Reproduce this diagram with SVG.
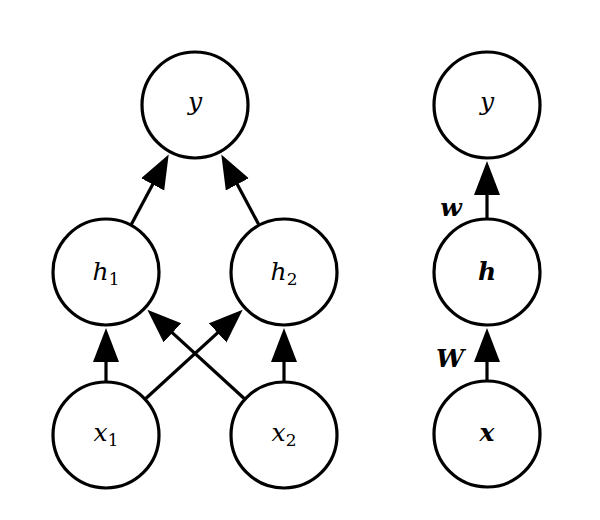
<svg xmlns="http://www.w3.org/2000/svg" width="600" height="520" viewBox="0 0 600 520">
<defs>
<style>
.node circle{fill:#fff;stroke:#000;stroke-width:3.2}
.lbl{font-family:"DejaVu Serif","Liberation Serif",serif;font-style:italic;font-size:25px;text-anchor:middle;fill:#000}
.b{font-weight:bold}
.sub{font-style:normal;font-size:17px}
#edges line{stroke:#000;stroke-width:3.2;marker-end:url(#ah)}
</style>
<marker id="ah" markerUnits="userSpaceOnUse" markerWidth="36" markerHeight="28" refX="24" refY="13" orient="auto" viewBox="0 0 36 28">
<path d="M0,0 L34,13 L0,26 z" fill="#000"/>
</marker>
</defs>
<rect width="600" height="520" fill="#fff"/>
<g id="edges">
<line x1="131.4" y1="224.3" x2="164.0" y2="163.2"/>
<line x1="258.6" y1="224.3" x2="226.0" y2="163.2"/>
<line x1="106" y1="381" x2="106" y2="338"/>
<line x1="284" y1="381" x2="284" y2="338"/>
<line x1="145.8" y1="398.5" x2="235.3" y2="316.6"/>
<line x1="244.2" y1="398.5" x2="154.7" y2="316.6"/>
<line x1="487" y1="380" x2="487" y2="338"/>
<line x1="487" y1="218" x2="487" y2="171"/>
</g>
<g id="edge-labels">
<text class="lbl b" x="451" y="216">w</text>
<text class="lbl b" x="450" y="367">W</text>
</g>
<g id="y_left" class="node"><circle cx="195" cy="105" r="53"/><text class="lbl" x="195" y="110">y</text></g>
<g id="h1" class="node"><circle cx="106" cy="272" r="53"/><text class="lbl" x="106" y="280">h<tspan class="sub" dy="5">1</tspan></text></g>
<g id="h2" class="node"><circle cx="284" cy="272" r="53"/><text class="lbl" x="284" y="280">h<tspan class="sub" dy="5">2</tspan></text></g>
<g id="x1" class="node"><circle cx="106" cy="435" r="53"/><text class="lbl" x="106" y="441">x<tspan class="sub" dy="5">1</tspan></text></g>
<g id="x2" class="node"><circle cx="284" cy="435" r="53"/><text class="lbl" x="284" y="441">x<tspan class="sub" dy="5">2</tspan></text></g>
<g id="y_right" class="node"><circle cx="487" cy="105" r="53"/><text class="lbl" x="487" y="110">y</text></g>
<g id="h" class="node"><circle cx="487" cy="272" r="53"/><text class="lbl b" x="487" y="280">h</text></g>
<g id="x" class="node"><circle cx="487" cy="434" r="53"/><text class="lbl b" x="487" y="441">x</text></g>
</svg>
